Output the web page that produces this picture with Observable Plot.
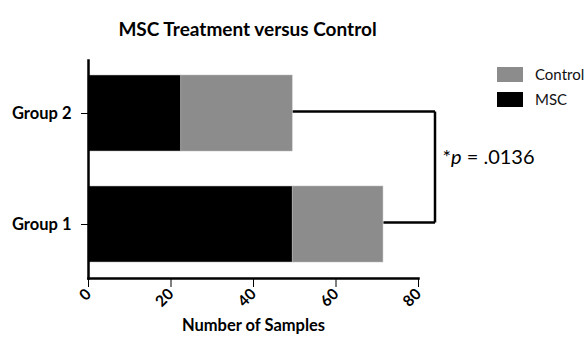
<!DOCTYPE html>
<html><head><meta charset="utf-8">
<script src="https://cdn.jsdelivr.net/npm/d3@7"></script>
<script src="https://cdn.jsdelivr.net/npm/@observablehq/plot@0.6"></script>
<style>
body{margin:0;background:#fff;font-family:Lato,"Open Sans",sans-serif;}
#wrap{position:relative;width:586px;height:338px;overflow:hidden;}
.leg{position:absolute;left:497px;font-size:15px;display:flex;align-items:center;color:#111;}
.sw{width:26px;height:15px;margin-right:12px;}
</style></head><body>
<div id="wrap"></div>
<script>
const groups = ["Group 2", "Group 1"];
const series = ["MSC", "Control"];
const mscValues = [22.5, 49.5];
const controlValues = [27, 22];
const xTicks = [0, 20, 40, 60, 80];
const colors = ["#000000", "#8c8c8c"];
const title = "MSC Treatment versus Control";
const xLabel = "Number of Samples";
const pLabel = "*p = .0136";

const rows = [];
groups.forEach((g, i) => {
  rows.push({group: g, series: "MSC", value: mscValues[i]});
  rows.push({group: g, series: "Control", value: controlValues[i]});
});
const totals = groups.map((g, i) => ({group: g, total: mscValues[i] + controlValues[i]}));
const bracketX = 84;

const chart = Plot.plot({
  width: 586, height: 338,
  marginLeft: 88, marginRight: 168, marginTop: 60, marginBottom: 60,
  style: {fontFamily: "Lato, 'Open Sans', sans-serif", color: "#000", background: "transparent"},
  x: {domain: [0, 80], ticks: xTicks},
  y: {domain: groups, paddingInner: 0.315, paddingOuter: 0.135},
  color: {domain: series, range: colors},
  marks: [
    Plot.barX(rows, {x: "value", y: "group", fill: "series", order: series, stroke: "#bbb", strokeWidth: 0.5, inset: 0}),
    // bracket
    Plot.link(totals, {x1: "total", x2: bracketX, y1: "group", y2: "group", dy: -2, stroke: "#000", strokeWidth: 2.5}),
    Plot.link([0], {x1: bracketX, x2: bracketX, y1: () => groups[0], y2: () => groups[1], dy: -2, stroke: "#000", strokeWidth: 2.5}),
    Plot.frame({anchor: "left", stroke: "#000", strokeWidth: 2.5}),
    Plot.frame({anchor: "bottom", stroke: "#000", strokeWidth: 2.5}),
    Plot.axisX({ticks: xTicks, tickSize: 9, tickWidth: 2.5, tickRotate: -45, fontSize: 15.5, fontWeight: "bold", label: null, tickPadding: 4}),
    Plot.axisY({tickSize: 7, tickWidth: 2, fontSize: 16.5, fontWeight: "bold", label: null, tickPadding: 10}),
    Plot.text([title], {frameAnchor: "top", dx: -6, dy: -38, fontSize: 19, fontWeight: "bold"}),
    Plot.text([xLabel], {frameAnchor: "bottom", dy: 52, fontSize: 16.5, fontWeight: "bold"})
  ]
});
const wrap = document.getElementById("wrap");
wrap.appendChild(chart);

// p-value label
const xs = chart.scale("x"), ys = chart.scale("y");
const pdiv = document.createElement("div");
pdiv.style.cssText = "position:absolute;font-size:20px;color:#000;";
pdiv.innerHTML = pLabel.replace("p", "<i>p</i>");
pdiv.style.left = (xs.apply(bracketX) + 8) + "px";
pdiv.style.top = ((ys.apply(groups[0]) + ys.apply(groups[1]) + ys.bandwidth) / 2 - 25) + "px";
wrap.appendChild(pdiv);

// legend (Control first, as in reference)
[["Control", colors[1], 65], ["MSC", colors[0], 90]].forEach(([name, c, top]) => {
  const d = document.createElement("div");
  d.className = "leg";
  d.style.top = top + "px";
  d.innerHTML = `<span class="sw" style="background:${c}"></span>${name}`;
  wrap.appendChild(d);
});
</script>
</body></html>
